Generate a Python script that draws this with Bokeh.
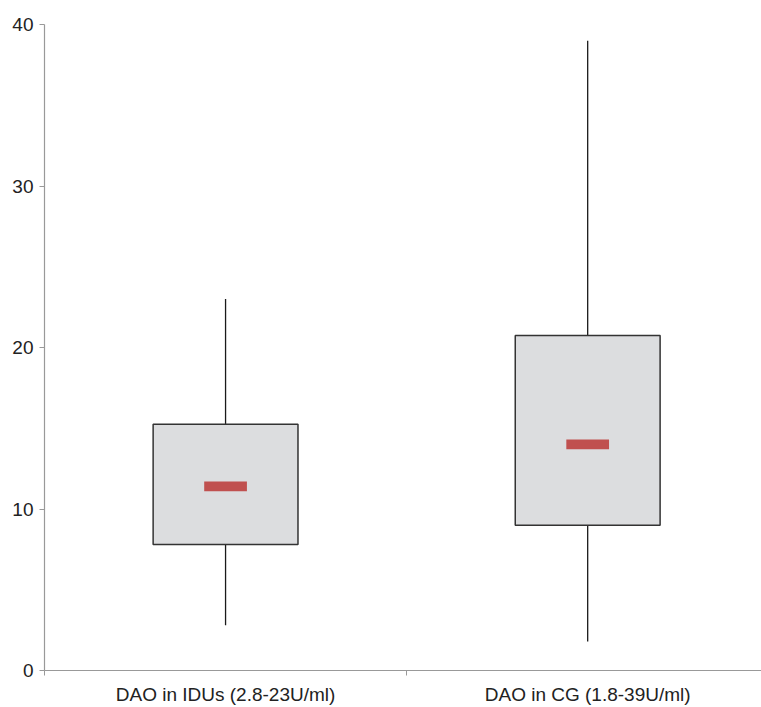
from bokeh.plotting import figure
from bokeh.models import FixedTicker, Range1d, ColumnDataSource
from bokeh.embed import file_html
from bokeh.resources import INLINE

categories = ["DAO in IDUs (2.8-23U/ml)", "DAO in CG (1.8-39U/ml)"]
low = [2.8, 1.8]
q1 = [7.8, 9.0]
median = [11.4, 14.0]
q3 = [15.25, 20.75]
high = [23.0, 39.0]
y_ticks = [0, 10, 20, 30, 40]

xs = [i + 0.5 for i in range(len(categories))]

src = ColumnDataSource(dict(x=xs, low=low, q1=q1, med=median, q3=q3, high=high))

p = figure(width=761, height=707, output_backend="svg", toolbar_location=None,
           x_range=Range1d(0, 1.98), y_range=Range1d(0, 40),
           min_border_left=44, min_border_top=24, min_border_bottom=37, min_border_right=0)
p.outline_line_color = None
p.grid.visible = False
p.background_fill_color = "white"
p.border_fill_color = "white"

# whiskers
p.segment(x0="x", y0="low", x1="x", y1="q1", source=src, line_color="#1a1a1a", line_width=1.3)
p.segment(x0="x", y0="q3", x1="x", y1="high", source=src, line_color="#1a1a1a", line_width=1.3)
# boxes
p.vbar(x="x", width=0.4, bottom="q1", top="q3", source=src,
       fill_color="#dcdddf", line_color="#333333", line_width=1.5)
# median markers
p.rect(x="x", y="med", width=0.118, height=0.6, source=src,
       fill_color="#c0504f", line_color=None)

# axes
xa = p.xaxis[0]
xa.ticker = FixedTicker(ticks=xs, minor_ticks=[0, 1, 2])
xa.major_label_overrides = {x: c for x, c in zip(xs, categories)}
xa.major_tick_out = 0
xa.major_tick_in = 0
xa.minor_tick_out = 5
xa.minor_tick_in = 0
xa.minor_tick_line_color = "#999999"
xa.axis_line_color = "#999999"
xa.axis_line_width = 1.2
xa.major_label_text_font = "Liberation Sans"
xa.major_label_text_font_size = "19px"
xa.major_label_text_color = "#222222"
xa.major_label_standoff = 8

ya = p.yaxis[0]
ya.ticker = FixedTicker(ticks=y_ticks)
ya.minor_tick_line_color = None
ya.major_tick_out = 5
ya.major_tick_in = 0
ya.major_tick_line_color = "#999999"
ya.axis_line_color = "#999999"
ya.axis_line_width = 1.2
ya.major_label_text_font = "Liberation Sans"
ya.major_label_text_font_size = "19px"
ya.major_label_text_color = "#222222"
ya.major_label_standoff = 6

open("out.html", "w").write(file_html(p, INLINE))
